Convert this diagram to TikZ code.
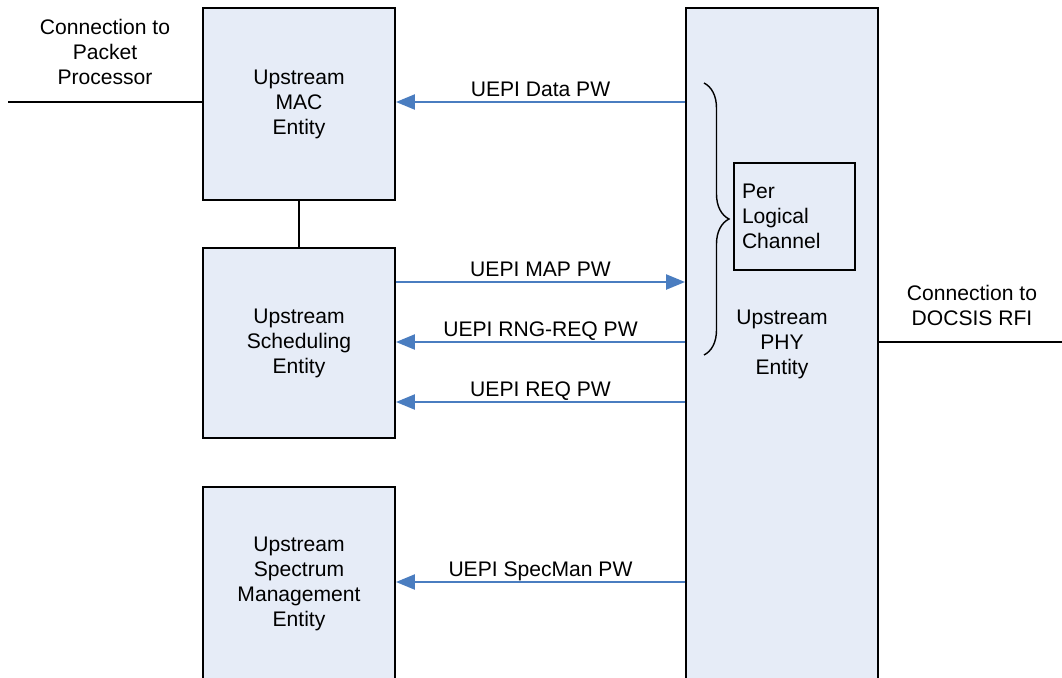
\documentclass[tikz,border=0pt]{standalone}
\usepackage{fontspec}
\setmainfont{Liberation Sans}
\usetikzlibrary{positioning}
\usetikzlibrary{arrows.meta}
\usetikzlibrary{decorations.pathreplacing}
\definecolor{boxfill}{RGB}{230,236,247}
\definecolor{pwblue}{RGB}{74,125,192}

\begin{document}
\begin{tikzpicture}[x=0.02cm, y=-0.02cm, font=\fontsize{12}{14.2}\selectfont,
  entity/.style={draw, line width=1.1pt, fill=boxfill, align=center, minimum width=3.84cm, inner sep=0pt},
  pw/.style={draw=pwblue, line width=1.3pt, -{Triangle[length=0.38cm,width=0.3cm]}},
  pwlabel/.style={above, inner sep=2.5pt, text depth=0pt}]

  \clip (0,0) rectangle (1062,677);
  \fill[white] (0,0) rectangle (1062,677);

  % entities
  \node[entity, minimum height=3.84cm] (mac) at (299,104) {Upstream\\MAC\\Entity};
  \node[entity, minimum height=3.8cm] (sched) at (299,343) {Upstream\\Scheduling\\Entity};
  \node[entity, minimum height=3.88cm] (spec) at (299,584) {Upstream\\Spectrum\\Management\\Entity};
  \node[entity, minimum height=13.44cm] (phy) at (782,344) {Upstream\\PHY\\Entity};

  \node[draw, line width=1.1pt, minimum width=2.42cm, minimum height=2.14cm, text width=2.1cm, align=left, inner sep=0.16cm] (chan) at (794.5,216.5) {Per\\Logical\\Channel};

  \draw[line width=0.8pt, decorate, decoration={brace, amplitude=0.5cm}] (704,83) -- (704,355);

  % outside connections
  \coordinate (pp) at (8,102);
  \draw[line width=1.1pt] (pp) -- (mac.west |- pp);
  \node[align=center] (pptext) at (105,52) {Connection to\\Packet\\Processor};

  \coordinate (rfi) at (1062,342);
  \draw[line width=1.1pt] (phy.east |- rfi) -- (rfi);
  \node[align=center] (rfitext) at (972,305) {Connection to\\DOCSIS RFI};

  \draw[line width=1.1pt] (mac.south) -- (sched.north);

  % pseudowires
  \draw[pw] (phy.west |- 0,102) -- node[pwlabel] {UEPI Data PW} (mac.east |- 0,102);
  \draw[pw] (sched.east |- 0,282) -- node[pwlabel] {UEPI MAP PW} (phy.west |- 0,282);
  \draw[pw] (phy.west |- 0,342) -- node[pwlabel] {UEPI RNG-REQ PW} (sched.east |- 0,342);
  \draw[pw] (phy.west |- 0,402) -- node[pwlabel] {UEPI REQ PW} (sched.east |- 0,402);
  \draw[pw] (phy.west |- 0,582) -- node[pwlabel] {UEPI SpecMan PW} (spec.east |- 0,582);

\end{tikzpicture}
\end{document}
